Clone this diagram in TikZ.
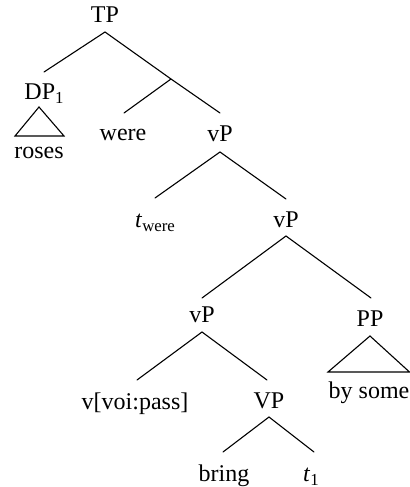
\documentclass[tikz,border=0pt]{standalone}
\usepackage{fontspec}
\setmainfont{Liberation Serif}
\newcommand{\lowsub}[1]{\raisebox{-0.45ex}{\fontsize{8.4pt}{9pt}\selectfont #1}}
\begin{document}
\begin{tikzpicture}[x=0.5pt,y=-0.5pt,
  lbl/.style={anchor=base,inner sep=0pt,font=\fontsize{12pt}{14pt}\selectfont},
  edge/.style={line width=0.55pt,line cap=round},
  tri/.style={line width=0.55pt,line join=miter}]
\useasboundingbox (0,0) rectangle (410,487);
% labels
\node[lbl] (TP) at (105,22) {TP};
\node[lbl] (DP) at (44,99) {DP\lowsub{1}};
\node[lbl] (roses) at (39,158) {roses};
\node[lbl] (were) at (123,140) {were};
\node[lbl] (vP1) at (220,141) {vP};
\node[lbl] (twere) at (155,227) {\textit{t}\lowsub{were}};
\node[lbl] (vP2) at (286,227) {vP};
\node[lbl] (vP3) at (202,322) {vP};
\node[lbl] (PP) at (370,326) {PP};
\node[lbl] (bysome) at (369,398) {by some};
\node[lbl] (vvoi) at (135,409) {v[voi:pass]};
\node[lbl] (VP) at (269,408) {VP};
\node[lbl] (bring) at (224,481) {bring};
\node[lbl] (t1) at (311,481) {\textit{t}\lowsub{1}};
% connector points
\coordinate (TPb) at (105,32);
\coordinate (DPt) at (44,72);
\coordinate (J) at (171,79);
\coordinate (weret) at (124,113);
\coordinate (vP1t) at (220,113);
\coordinate (vP1b) at (220,152);
\coordinate (twt) at (155,198);
\coordinate (vP2t) at (286,199);
\coordinate (vP2b) at (286,236);
\coordinate (vP3t) at (202,298);
\coordinate (PPt) at (371,298);
\coordinate (vP3b) at (202,332);
\coordinate (vvt) at (137,380);
\coordinate (VPt) at (267,380);
\coordinate (VPb) at (269,417);
\coordinate (brt) at (223,452);
\coordinate (t1t) at (314,452);
% DP triangle
\coordinate (DPa) at (39,107);
\coordinate (DPl) at (15,136);
\coordinate (DPr) at (64,136);
% PP triangle
\coordinate (PPa) at (370,336);
\coordinate (PPl) at (328,372);
\coordinate (PPr) at (409.5,372);
% edges
\draw[edge] (TPb) -- (DPt);
\draw[edge] (TPb) -- (J) -- (vP1t);
\draw[edge] (J) -- (weret);
\draw[edge] (vP1b) -- (twt);
\draw[edge] (vP1b) -- (vP2t);
\draw[edge] (vP2b) -- (vP3t);
\draw[edge] (vP2b) -- (PPt);
\draw[edge] (vP3b) -- (vvt);
\draw[edge] (vP3b) -- (VPt);
\draw[edge] (VPb) -- (brt);
\draw[edge] (VPb) -- (t1t);
\draw[tri] (DPa) -- (DPl) -- (DPr) -- cycle;
\draw[tri] (PPa) -- (PPl) -- (PPr) -- cycle;
\end{tikzpicture}
\end{document}
